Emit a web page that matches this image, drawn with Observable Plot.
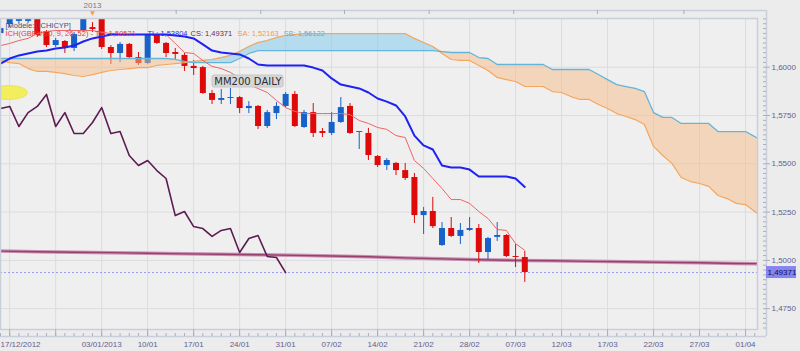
<!DOCTYPE html>
<html><head><meta charset="utf-8">
<script src="https://cdn.jsdelivr.net/npm/d3@7"></script>
<script src="https://cdn.jsdelivr.net/npm/@observablehq/plot@0.6"></script>
<style>
html,body{margin:0;padding:0;background:#ececec;}
#chart{width:800px;height:351px;overflow:hidden;}
</style></head><body><div id="chart"></div>
<script>
// ---- candles: bar index -1 .. 56 (index 0 = 17/12/2012)
const candleOpen = [1.6174,1.6221,1.6237,1.6237,1.6273,1.6180,1.6112,1.6133,1.6097,1.6190,1.6205,1.6257,1.6102,1.6071,1.6118,1.6050,1.6019,1.6169,1.6123,1.6076,1.6061,1.6004,1.5998,1.5864,1.5828,1.5838,1.5843,1.5786,1.5797,1.5693,1.5760,1.5797,1.5859,1.5688,1.5765,1.5667,1.5657,1.5714,1.5797,1.5662,1.5657,1.5538,1.5491,1.5502,1.5465,1.5429,1.5232,1.5253,1.5077,1.5165,1.5124,1.5155,1.5165,1.5041,1.5119,1.5129,1.5020,1.5015];
const candleHigh = [1.6216,1.6283,1.6293,1.6283,1.6283,1.6190,1.6149,1.6138,1.6180,1.6283,1.6231,1.6273,1.6112,1.6128,1.6123,1.6076,1.6169,1.6171,1.6128,1.6097,1.6071,1.6035,1.6004,1.5879,1.5885,1.5890,1.5848,1.5822,1.5802,1.5776,1.5817,1.5869,1.5874,1.5776,1.5812,1.5683,1.5765,1.5843,1.5812,1.5667,1.5683,1.5543,1.5527,1.5507,1.5502,1.5450,1.5274,1.5326,1.5196,1.5222,1.5191,1.5222,1.5186,1.5119,1.5196,1.5134,1.5082,1.5046];
const candleLow = [1.6159,1.6205,1.6221,1.6226,1.6154,1.6102,1.6102,1.6071,1.6081,1.6180,1.6180,1.6092,1.6014,1.6024,1.6045,1.6009,1.6014,1.6118,1.6050,1.6035,1.5978,1.5957,1.5859,1.5807,1.5807,1.5807,1.5760,1.5760,1.5678,1.5683,1.5729,1.5791,1.5688,1.5683,1.5636,1.5636,1.5646,1.5709,1.5652,1.5574,1.5517,1.5481,1.5465,1.5439,1.5414,1.5191,1.5134,1.5165,1.5072,1.5119,1.5082,1.5150,1.4984,1.5005,1.5098,1.5015,1.4963,1.4886];
const candleClose = [1.6200,1.6262,1.6273,1.6268,1.6164,1.6112,1.6138,1.6097,1.6169,1.6262,1.6195,1.6102,1.6071,1.6118,1.6050,1.6019,1.6164,1.6123,1.6071,1.6066,1.6004,1.5993,1.5864,1.5828,1.5838,1.5843,1.5786,1.5797,1.5693,1.5765,1.5797,1.5859,1.5693,1.5765,1.5657,1.5657,1.5714,1.5791,1.5657,1.5667,1.5543,1.5491,1.5517,1.5465,1.5424,1.5232,1.5253,1.5175,1.5165,1.5124,1.5155,1.5165,1.5041,1.5113,1.5129,1.5020,1.5015,1.49371];

// ---- Ichimoku lines, bar index -1 .. 56
const tenkan = [1.6112,1.6123,1.6138,1.6149,1.6174,1.6185,1.6190,1.6190,1.6190,1.6190,1.6190,1.6180,1.6174,1.6169,1.6169,1.6169,1.6169,1.6169,1.6169,1.6123,1.6076,1.6071,1.6035,1.6004,1.5993,1.5973,1.5942,1.5910,1.5890,1.5869,1.5828,1.5791,1.5771,1.5760,1.5760,1.5760,1.5760,1.5760,1.5755,1.5724,1.5709,1.5688,1.5678,1.5646,1.5636,1.5517,1.5476,1.5424,1.5372,1.5315,1.5315,1.5295,1.5253,1.5217,1.5160,1.5155,1.5087,1.50521];
const kijun = [1.6019,1.6045,1.6061,1.6071,1.6081,1.6086,1.6097,1.6102,1.6112,1.6133,1.6149,1.6159,1.6169,1.6169,1.6169,1.6169,1.6169,1.6169,1.6169,1.6164,1.6159,1.6149,1.6118,1.6086,1.6076,1.6071,1.6066,1.6045,1.6014,1.6009,1.6009,1.6009,1.6009,1.6009,1.5998,1.5983,1.5942,1.5910,1.5900,1.5890,1.5869,1.5838,1.5822,1.5802,1.5745,1.5646,1.5595,1.5574,1.5491,1.5481,1.5481,1.5470,1.5434,1.5434,1.5434,1.5434,1.5424,1.53804];

// ---- cloud, bar index -1 .. 82
const senkouA = [1.6035,1.6024,1.6019,1.5993,1.5978,1.5978,1.5973,1.5967,1.5957,1.5952,1.5962,1.5973,1.5983,1.5988,1.5993,1.5998,1.5998,1.6009,1.6014,1.6019,1.6024,1.6030,1.6035,1.6040,1.6050,1.6061,1.6081,1.6107,1.6128,1.6138,1.6154,1.6164,1.6169,1.6174,1.6174,1.6174,1.6174,1.6174,1.6174,1.6174,1.6174,1.6174,1.6174,1.6174,1.6174,1.6149,1.6128,1.6107,1.6071,1.6040,1.6035,1.6035,1.6009,1.5983,1.5947,1.5936,1.5926,1.5900,1.5900,1.5900,1.5874,1.5869,1.5848,1.5833,1.5833,1.5807,1.5786,1.5760,1.5745,1.5729,1.5703,1.5590,1.5543,1.5502,1.5429,1.5408,1.5398,1.5383,1.5336,1.5320,1.5295,1.5289,1.5253,1.52163];
const senkouB = [1.6045,1.6045,1.6045,1.6045,1.6045,1.6045,1.6045,1.6045,1.6045,1.6045,1.6045,1.6045,1.6045,1.6045,1.6045,1.6045,1.6045,1.6045,1.6045,1.6040,1.6030,1.6024,1.6024,1.6024,1.6024,1.6024,1.6045,1.6071,1.6086,1.6086,1.6086,1.6086,1.6086,1.6086,1.6086,1.6086,1.6086,1.6086,1.6086,1.6086,1.6086,1.6086,1.6086,1.6086,1.6086,1.6086,1.6086,1.6086,1.6081,1.6076,1.6076,1.6076,1.6050,1.6045,1.6014,1.6014,1.6014,1.6014,1.6014,1.6014,1.5988,1.5988,1.5988,1.5988,1.5988,1.5962,1.5936,1.5910,1.5900,1.5890,1.5874,1.5765,1.5740,1.5740,1.5709,1.5709,1.5709,1.5709,1.5667,1.5667,1.5667,1.5667,1.5641,1.56122];

// ---- MM200 daily
const mm200Index = [-1,3,7,11,15,19,23,27,31,35,39,43,47,51,55,59,63,67,71,75,79,82];
const mm200 = [1.5048,1.5045,1.5042,1.5040,1.5037,1.5034,1.5032,1.5029,1.5026,1.5023,1.5019,1.5013,1.5008,1.5003,1.5000,1.4998,1.4995,1.4993,1.4990,1.4988,1.4984,1.4983];

// ---- axes
const dateTickIndex = [0,5,10,15,20,25,30,35,40,45,50,55,60,65,70,75,80];
const dateTickLabels = ["17/12/2012","","03/01/2013","10/01","17/01","24/01","31/01","07/02","14/02","21/02","28/02","07/03","12/03","17/03","22/03","27/03","01/04"];
const topTickIndex = [18.1,27.3,36.4,45.6,54.8,63.9,73.3];
const yearLabel = ["2013"];
const yearIndex = [9];
const priceTicks = [1.475,1.5,1.525,1.55,1.575,1.6];
const legendTop = ["[Modele: [ICHICYP]"];
const legendItems = ["ICH(GBPUSD, 9, 26, 52) - TS: 1,50521","TL: 1,53804","CS: 1,49371","SA: 1,52163","SB: 1,56122"];
const legendColors = ["#e83a3a","#2a2ae8","#6a2a60","#f29a4e","#5fb0d6"];
const legendOffsets = [5,147,190,237,283];
const noteLabel = ["MM200 DAILY"];
const markerIndex = [-0.13];
const markerPrice = [1.5869];

// ---- build tables
const candleIndex = d3.range(-1, 57);
const candles = candleIndex.map((t, i) => ({t, o: candleOpen[i], h: candleHigh[i], l: candleLow[i], c: candleClose[i]}));
const lines = candleIndex.map((t, i) => ({t, ts: tenkan[i], kj: kijun[i]}));
const cloud = d3.range(-1, 83).map((t, i) => ({t, sa: senkouA[i], sb: senkouB[i]}));
const chikou = candles.filter(d => d.t - 26 >= -1).map(d => ({t: d.t - 26, p: d.c}));
const mm = mm200Index.map((t, i) => ({t, p: mm200[i]}));
const lastClose = candleClose[candleClose.length - 1];
const fmt = v => d3.format(".4f")(v).replace(".", ",");
const fmt5 = v => d3.format(".5f")(v).replace(".", ",");

const xDomain = [-1, 81.3];
const yDomain = [1.46423, 1.62521];
const plotW = 757, plotH = 311;
const xp = (xDomain[1] - xDomain[0]) / plotW;
const yp = (yDomain[1] - yDomain[0]) / plotH;
const xOuter = xDomain[1] + 9 * xp;
const yOuterTop = yDomain[1] + 8 * yp;
const yOuterBottom = yDomain[0] - 7 * yp;
const minorPrices = d3.range(1.4650, 1.6251, 0.0025).filter(v => priceTicks.every(p => Math.abs(p - v) > 1e-6));
const dayIndex = d3.range(-1, 82);
const dateTicks = dateTickIndex.map((t, i) => ({t, label: dateTickLabels[i]}));

const ellipseSymbol = {
  draw(ctx, size) {
    const ry = Math.sqrt(size / Math.PI), rx = ry * 2.7, k = 0.5523;
    ctx.moveTo(rx, 0);
    ctx.bezierCurveTo(rx, k * ry, k * rx, ry, 0, ry);
    ctx.bezierCurveTo(-k * rx, ry, -rx, k * ry, -rx, 0);
    ctx.bezierCurveTo(-rx, -k * ry, -k * rx, -ry, 0, -ry);
    ctx.bezierCurveTo(k * rx, -ry, rx, -k * ry, rx, 0);
    ctx.closePath();
  }
};

const RED = "#de0a0a", BLUE = "#1762c8";
const axisColor = "#5e5e8c";
const frameColor = "#c9cfda";

const chart = Plot.plot({
  width: 800, height: 351,
  marginLeft: 0, marginRight: 43, marginTop: 18, marginBottom: 22,
  x: {domain: xDomain, axis: null},
  y: {domain: yDomain, axis: null},
  style: {background: "#ececec", fontFamily: "Liberation Sans, Arial, sans-serif", overflow: "visible"},
  marks: [
    Plot.frame({fill: "#efefef", stroke: null}),
    Plot.gridY(priceTicks, {stroke: "#dcdce0", strokeOpacity: 1}),
    Plot.gridX(dateTickIndex, {stroke: "#dcdce0", strokeOpacity: 1}),
    // MM200
    Plot.line(mm, {x: "t", y: "p", stroke: "#c98fb0", strokeWidth: 3.5, clip: true}),
    Plot.line(mm, {x: "t", y: "p", stroke: "#983f6f", strokeWidth: 1.4, clip: true}),
    // last price dotted
    Plot.ruleY([lastClose], {stroke: "#9a9aee", strokeDasharray: "2,2", strokeWidth: 1}),
    // chikou
    Plot.line(chikou, {x: "t", y: "p", stroke: "#5b1c52", strokeWidth: 1.6, clip: true}),
    // candles
    Plot.ruleX(candles, {x: "t", y1: "l", y2: "h", stroke: d => d.c >= d.o ? BLUE : RED, strokeWidth: 1, clip: true}),
    Plot.ruleX(candles, {x: "t", y1: "o", y2: d => Math.abs(d.c - d.o) < 0.0004 ? d.o + (d.c >= d.o ? 0.0004 : -0.0004) : d.c, stroke: d => d.c >= d.o ? BLUE : RED, strokeWidth: 6, clip: true}),
    // cloud
    Plot.areaY(cloud, {x: "t", y1: "sb", y2: d => Math.max(d.sa, d.sb), fill: "#7cc8ee", fillOpacity: 0.5, clip: true}),
    Plot.areaY(cloud, {x: "t", y1: "sa", y2: d => Math.max(d.sa, d.sb), fill: "#f8bc88", fillOpacity: 0.5, clip: true}),
    Plot.line(cloud, {x: "t", y: "sa", stroke: "#f6a65c", strokeWidth: 1.2, clip: true}),
    Plot.line(cloud, {x: "t", y: "sb", stroke: "#63b6da", strokeWidth: 1.3, clip: true}),
    // tenkan / kijun
    Plot.line(lines, {x: "t", y: "ts", stroke: "#f06464", strokeWidth: 1, clip: true}),
    Plot.line(lines, {x: "t", y: "kj", stroke: "#1e22f2", strokeWidth: 2, clip: true}),
    // yellow marker
    Plot.dot(markerIndex, {x: d => d, y: (d, i) => markerPrice[i], r: 7, symbol: ellipseSymbol, fill: "#f3ee5e", stroke: "#e6df58", strokeWidth: 0.8, clip: true}),
    // MM200 DAILY note
    Plot.rect(noteLabel, {x1: 22.05, x2: 29.77, y1: 1.5895, y2: 1.5957, fill: "#d7d7d7", stroke: "#c6c6c6", rx: 2}),
    Plot.text(noteLabel, {x: 25.9, y: 1.5926, text: d => d, fill: "#2c2c2c", fontSize: 10, fontFamily: "DejaVu Sans, sans-serif"}),
    // frame and outer axis lines
    Plot.frame({stroke: frameColor, strokeWidth: 1.5}),
    Plot.ruleX([xOuter], {y1: yOuterBottom, y2: yOuterTop, stroke: frameColor, strokeWidth: 1.5}),
    Plot.ruleY([yOuterTop], {x1: xDomain[0], x2: xOuter, stroke: frameColor, strokeWidth: 1.5}),
    Plot.ruleY([yOuterBottom], {x1: xDomain[0], x2: xOuter, stroke: frameColor, strokeWidth: 1.5}),
    // right ticks
    Plot.ruleY(minorPrices, {x1: xDomain[1] + 6 * xp, x2: xOuter, stroke: "#a8aec0"}),
    Plot.ruleY(priceTicks, {x1: xDomain[1] + 6 * xp, x2: xDomain[1] + 13 * xp, stroke: "#a8aec0"}),
    Plot.text(priceTicks, {x: xDomain[1] + 14 * xp, y: d => d, text: fmt, textAnchor: "start", fill: axisColor, fontSize: 8}),
    // bottom ticks
    Plot.ruleX(dayIndex, {x: d => d, y1: yOuterBottom + 3 * yp, y2: yOuterBottom, stroke: "#a8aec0"}),
    Plot.ruleX(dateTickIndex, {x: d => d, y1: yDomain[0], y2: yOuterBottom, stroke: "#a8aec0"}),
    Plot.text(dateTicks.slice(1), {x: "t", y: yDomain[0], dy: 15, text: "label", fill: axisColor, fontSize: 8}),
    Plot.text(dateTicks.slice(0, 1), {x: xDomain[0], y: yDomain[0], dy: 15, text: "label", textAnchor: "start", fill: axisColor, fontSize: 8}),
    // top band
    Plot.ruleX(topTickIndex, {x: d => d, y1: yOuterTop, y2: yOuterTop - 4 * yp, stroke: "#a8aec0"}),
    Plot.text(yearLabel, {x: (d, i) => yearIndex[i], y: yDomain[1] + 13 * yp, text: d => d, fill: "#77778f", fontSize: 8}),
    Plot.text(yearIndex, {x: d => d, y: yDomain[1] + 5 * yp, text: () => "▼", fill: "#f2a23a", fontSize: 6, fontFamily: "DejaVu Sans, sans-serif"}),
    // last price box
    Plot.rect([lastClose], {x1: xOuter, x2: xOuter + 30 * xp, y1: d => d - 6 * yp, y2: d => d + 6 * yp, fill: "#8585f2"}),
    Plot.text([lastClose], {x: xOuter + 1 * xp, y: d => d, text: fmt5, textAnchor: "start", fill: "#0c0c50", fontSize: 8}),
    // legend
    Plot.text(legendTop, {frameAnchor: "top-left", dx: 5, dy: 4, text: d => d, textAnchor: "start", fill: "#4e4e6e", fontSize: 7.5}),
    ...legendItems.map((s, i) => Plot.text([s], {frameAnchor: "top-left", dx: legendOffsets[i], dy: 12, text: d => d, textAnchor: "start", fill: legendColors[i], fontSize: 7.5}))
  ]
});
document.getElementById("chart").appendChild(chart);
</script>
</body></html>
